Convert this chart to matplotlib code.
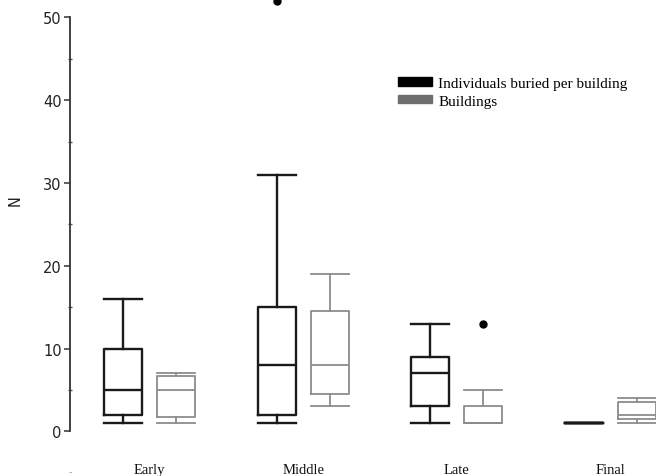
import matplotlib
matplotlib.use("Agg")
import matplotlib.pyplot as plt
from matplotlib.patches import Patch

# ---- data ----
periods = ["Early", "Middle", "Late", "Final"]

# Individuals buried per building
ind_whislo = [1, 1, 1, 1]
ind_q1 = [2, 2, 3, 1]
ind_med = [5, 8, 7, 1]
ind_q3 = [10, 15, 9, 1]
ind_whishi = [16, 31, 13, 1]
ind_fliers = [[], [52], [], []]

# Buildings
bld_whislo = [1, 3, 1, 1]
bld_q1 = [1.7, 4.5, 1, 1.5]
bld_med = [5, 8, 1, 2]
bld_q3 = [6.7, 14.5, 3, 3.5]
bld_whishi = [7, 19, 5, 4]
bld_fliers = [[], [], [13], []]

legend_labels = ["Individuals buried per building", "Buildings"]

W, H = 656, 477
fig = plt.figure(figsize=(W / 100, H / 100), dpi=100)
left_px, right_px = 70, 656
y0_px, y50_px = 432.3, 18.3
ax = fig.add_axes([left_px / W, (H - y0_px) / H, (right_px - left_px) / W, (y0_px - y50_px) / H])

spacing = 153.7
first_center = 149.5
xmin = 1 - (first_center - left_px) / spacing
xmax = 1 + (right_px - first_center) / spacing
offset = 26.5 / spacing
bw = 38 / spacing


def stats(lo, q1, med, q3, hi, fl):
    return [dict(whislo=a, q1=b, med=c, q3=d, whishi=e, fliers=f)
            for a, b, c, d, e, f in zip(lo, q1, med, q3, hi, fl)]


centers = [i + 1 for i in range(len(periods))]
blk = "#1a1a1a"
gry = "#8c8c8c"

ax.bxp(stats(ind_whislo, ind_q1, ind_med, ind_q3, ind_whishi, ind_fliers),
       positions=[c - offset for c in centers], widths=bw, capwidths=bw,
       boxprops=dict(color=blk, lw=1.7), whiskerprops=dict(color=blk, lw=1.7),
       capprops=dict(color=blk, lw=1.7), medianprops=dict(color=blk, lw=1.7),
       flierprops=dict(marker="o", markerfacecolor="black", markeredgecolor="black",
                       markersize=5, clip_on=False),
       manage_ticks=False)
ax.bxp(stats(bld_whislo, bld_q1, bld_med, bld_q3, bld_whishi, bld_fliers),
       positions=[c + offset for c in centers], widths=bw, capwidths=bw,
       boxprops=dict(color=gry, lw=1.3), whiskerprops=dict(color=gry, lw=1.3),
       capprops=dict(color=gry, lw=1.3), medianprops=dict(color=gry, lw=1.3),
       flierprops=dict(marker="o", markerfacecolor="black", markeredgecolor="black",
                       markersize=5, clip_on=False),
       manage_ticks=False)

for ln in ax.lines:
    ln.set_clip_on(False)

ax.set_xlim(xmin, xmax)
ax.set_ylim(0, 50)
for s in ["top", "right", "bottom"]:
    ax.spines[s].set_visible(False)
ax.spines["left"].set_color("#333333")
ax.spines["left"].set_linewidth(1.3)

ax.set_yticks([0, 10, 20, 30, 40, 50])
ax.set_yticks([5, 15, 25, 35, 45], minor=True)
ax.tick_params(axis="y", which="major", direction="out", length=4, width=1.1,
               color="#333333", labelsize=10.5, labelcolor="#222222", pad=2)
ax.tick_params(axis="y", which="minor", direction="inout", length=3, width=1,
               color="#555555")
ax.set_xticks(centers)
ax.set_xticklabels(periods, family="Liberation Serif", fontsize=10.5, color="#111111")
ax.tick_params(axis="x", length=0, pad=23)

fig.text(15 / W, 1 - 201 / H, "N", rotation=90, ha="center", va="center",
         fontsize=10.5, color="#222222")
fig.text(70 / W, 1 - 472 / H, "-", ha="center", va="center", fontsize=7, color="#999999")

handles = [Patch(facecolor="black", edgecolor="black"),
           Patch(facecolor="#6e6e6e", edgecolor="#6e6e6e")]
fig.legend(handles, legend_labels, loc="upper left",
           bbox_to_anchor=(398 / W, 1 - 78 / H), frameon=False,
           prop=dict(family="Liberation Serif", size=11),
           handlelength=2.2, handleheight=0.45, handletextpad=0.45,
           labelspacing=0.3, borderaxespad=0, borderpad=0)

fig.savefig("out.png", dpi=100)
